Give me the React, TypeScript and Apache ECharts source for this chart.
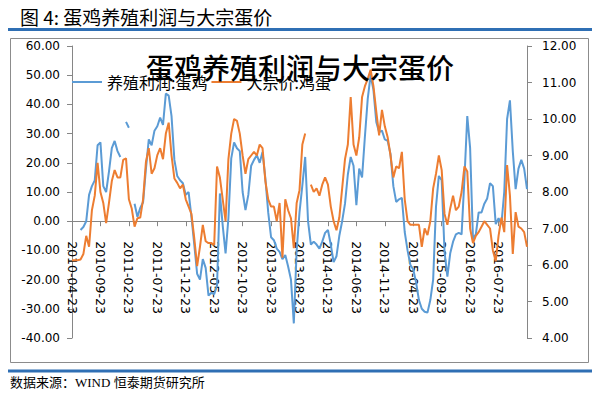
import React, { useEffect, useRef } from "react";
import * as echarts from "echarts";

// Half-monthly dates from 2010-04-23 (23rd and 8th of each month)
const categories: string[] = [];
for (let i = 0; i < 161; i++) {
  const mi = 3 + (i % 2 === 0 ? i / 2 : (i + 1) / 2);
  const y = 2010 + Math.floor(mi / 12);
  const m = (mi % 12) + 1;
  const d = i % 2 === 0 ? "23" : "08";
  categories.push(`${y}-${String(m).padStart(2, "0")}-${d}`);
}

const seriesNames = ["养殖利润:蛋鸡", "大宗价:鸡蛋"];

// 养殖利润:蛋鸡 (left axis)
const profit: (number | null)[] = [
  null, null, null, -3, -2, 0, 9, 12, 14, 26,
  27, 12, 10, 17, 25, 27.5, 24, 22, null, 34,
  32, null, 6, 1.5, 4.5, 6.5, 18, 28, 26, 31,
  32.5, 35.5, 33, 43.7, 43, 36, 21, 15.5, 14, 13,
  9, 10, 1.5, -8, -18, -20, -13, -16, -25.5, -24.5,
  -25, -22, 9.5, -1.5, -11, 1, 21.5, 27, 25, 24,
  10, 3.8, 9, 19, 21, 22.6, 20, 23.7, 14.6, 3,
  -5.5, -6.5, -9.4, -10.5, -13, -11.6, -15.5, -20, -35, -10,
  3, 12.3, 22, 0, -8, -7, -8, -9.4, -7, -4,
  -3, -8, -14, -12, -5, 0, 6, 16, 22, 19,
  5.5, 18, 15, 29, 42, 50, 45, 34, 30.5, 31,
  28, 27.5, 23, 12, 6.6, 7.5, 8, -3.7, -10, -15,
  -16.5, -21, -27, -30, -31, -31.3, -27, -20, 5, 15.5,
  14, -10.5, -19, -11, -7, -4.5, -4, -4.5, 14.6, 36,
  25, -6, -4.5, 3, 3, 6, 7.8, 13, 12, -1,
  1, -1, 10, 35, 41.4, 24, 11, 18, 21, 18,
  11,
];

// 大宗价:鸡蛋 (right axis)
const eggPrice: (number | null)[] = [
  6.13, 6.13, 6.13, 6.15, 6.3, 6.8, 6.5, 7.5, 7.9, 8.8,
  8.0, 7.7, 7.15, 7.7, 8.3, 8.6, 8.4, 8.4, 8.88, 8.92,
  7.8, 7.55, 7.05, 7.28, 7.3, 7.8, 8.83, 9.2, 8.5, 8.65,
  9.01, 9.2, 8.9, 9.6, 9.9, 9.0, 8.37, 8.25, 8.1, 8.2,
  7.8, 7.6, 7.4, 6.73, 5.97, 6.5, 7.1, 6.65, 6.6, 6.6,
  6.55, 8.7, 8.4, 7.8, 7.2, 8.9, 9.6, 10.0, 9.95, 9.6,
  9.0, 8.5, 8.9, 9.0, 9.1, 9.0, 9.3, 9.2, 8.3, 7.8,
  7.6, 7.6, 7.2, 7.7, 6.2, 7.8, 7.5, 7.28, 6.46, 7.7,
  8.05, 9.3, 9.6, null, 8.2, 8.0, 8.1, 7.9, 8.2, 8.4,
  8.2, 7.6, 7.2, 6.95, 7.3, 8.1, 8.9, 9.3, 10.6, 9.3,
  9.0, 9.5, 10.6, 10.9, 11.1, 11.35, 10.9, 10.2, 9.55, 10.25,
  9.8, 9.5, 9.0, 8.4, 8.7, 8.65, 9.1, 7.8, 7.2, 7.1,
  7.1, 7.1, 7.1, 6.5, 7.0, 6.82, 7.2, 8.1, 8.5, 9.0,
  8.6, 7.4, 7.1, 7.55, 7.9, 7.5, 7.6, 8.0, 8.7, 8.56,
  7.0, 6.6, 6.8, 6.9, 7.05, 7.2, 7.1, 7.0, 6.4, 6.1,
  6.8, 7.3, 6.9, 8.74, 7.9, 6.3, 7.45, 7.05, 7.0, 6.9,
  6.5,
];

const headerText = "图 4: 蛋鸡养殖利润与大宗蛋价";
const chartTitle = "蛋鸡养殖利润与大宗蛋价";
const footerText = "数据来源：WIND 恒泰期货研究所";

const AXIS_GRAY = "#868686";
const CJK = "Noto Sans CJK SC";
const NUM_FONT = "DejaVu Sans";

// plot area (grid) geometry
const GRID_TOP = 46;
const GRID_BOTTOM = 59;
const CHART_H = 397;
const LEFT_MIN = -40;
const LEFT_MAX = 60;
const plotH = CHART_H - GRID_TOP - GRID_BOTTOM;
// shift x axis from the grid bottom up to the zero line of the left axis
const zeroOffset = -(plotH * (0 - LEFT_MIN)) / (LEFT_MAX - LEFT_MIN);

export default function App() {
  const ref = useRef<HTMLDivElement>(null);
  useEffect(() => {
    if (!ref.current) return;
    const chart = echarts.init(ref.current, undefined, { renderer: "svg" });
    chart.setOption({
      animation: false,
      backgroundColor: "#ffffff",
      title: {
        text: chartTitle,
        left: "center",
        top: 48,
        textStyle: { fontSize: 28, fontWeight: 500, fontFamily: CJK, color: "#000" },
      },
      legend: {
        left: 72,
        top: 74,
        padding: 0,
        icon: "rect",
        itemWidth: 30,
        itemHeight: 2,
        itemGap: 4,
        textStyle: { fontSize: 16, fontFamily: CJK, color: "#000" },
        data: seriesNames,
      },
      grid: {
        left: 72,
        right: 73,
        top: GRID_TOP,
        bottom: GRID_BOTTOM,
        containLabel: false,
        outerBoundsMode: "none",
      },
      xAxis: {
        type: "category",
        data: categories,
        boundaryGap: false,
        position: "bottom",
        offset: zeroOffset,
        axisLine: { onZero: false, lineStyle: { color: AXIS_GRAY, width: 1 } },
        axisTick: { show: true, interval: 9, length: 5, lineStyle: { color: AXIS_GRAY } },
        axisLabel: {
          interval: 9,
          rotate: -90,
          fontSize: 12.5,
          fontFamily: NUM_FONT,
          color: "#000",
          margin: 20,
          showMaxLabel: false,
          hideOverlap: false,
        },
        splitLine: { show: false },
      },
      yAxis: [
        {
          type: "value",
          min: LEFT_MIN,
          max: LEFT_MAX,
          interval: 10,
          position: "left",
          axisLine: { show: true, onZero: false, lineStyle: { color: AXIS_GRAY } },
          axisTick: { show: true, length: 5, lineStyle: { color: AXIS_GRAY } },
          axisLabel: {
            formatter: (v: number) => v.toFixed(2),
            fontSize: 12,
            fontFamily: NUM_FONT,
            color: "#000",
            margin: 12,
          },
          splitLine: { show: false },
        },
        {
          type: "value",
          min: 4,
          max: 12,
          interval: 1,
          position: "right",
          axisLine: { show: true, onZero: false, lineStyle: { color: AXIS_GRAY } },
          axisTick: { show: true, length: 5, lineStyle: { color: AXIS_GRAY } },
          axisLabel: {
            formatter: (v: number) => v.toFixed(2),
            fontSize: 12,
            fontFamily: NUM_FONT,
            color: "#000",
            margin: 15,
          },
          splitLine: { show: false },
        },
      ],
      series: [
        {
          name: seriesNames[0],
          type: "line",
          yAxisIndex: 0,
          data: profit,
          symbol: "none",
          showSymbol: false,
          connectNulls: false,
          lineStyle: { width: 2, color: "#5B9BD5" },
          itemStyle: { color: "#5B9BD5" },
        },
        {
          name: seriesNames[1],
          type: "line",
          yAxisIndex: 1,
          data: eggPrice,
          symbol: "none",
          showSymbol: false,
          connectNulls: false,
          lineStyle: { width: 2, color: "#ED7D31" },
          itemStyle: { color: "#ED7D31" },
        },
      ],
      graphic: [
        {
          type: "text",
          left: 20,
          top: 7,
          style: { text: headerText, fontSize: 19, fontFamily: CJK, fill: "#000" },
        },
        {
          type: "line",
          shape: { x1: 8, y1: 29.5, x2: 592, y2: 29.5 },
          style: { stroke: "#2F6FB4", lineWidth: 3 },
        },
        {
          type: "rect",
          shape: { x: 10.5, y: 38.5, width: 578, height: 324 },
          style: { fill: "none", stroke: "#8C8C8C", lineWidth: 1 },
        },
        {
          type: "line",
          shape: { x1: 8, y1: 371, x2: 592, y2: 371 },
          style: { stroke: "#2F6FB4", lineWidth: 3 },
        },
        {
          type: "text",
          left: 10,
          top: 376,
          style: {
            text: footerText,
            fontSize: 13,
            fontFamily: "Liberation Serif, " + CJK,
            fill: "#000",
          },
        },
      ],
    });
    return () => chart.dispose();
  }, []);
  return (
    <div
      ref={ref}
      style={{ position: "absolute", left: 0, top: 0, width: 600, height: 397, background: "#fff" }}
    />
  );
}
